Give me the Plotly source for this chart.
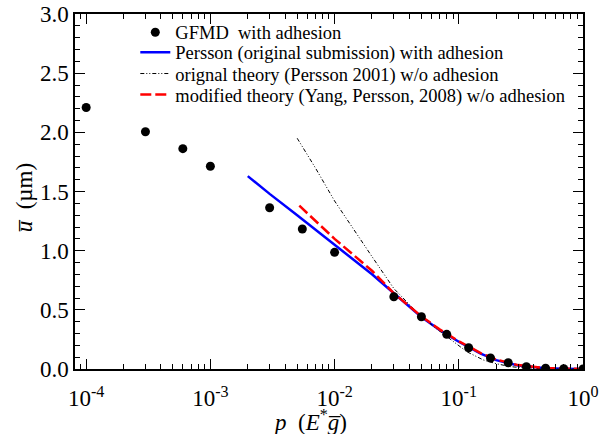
import plotly.graph_objects as go

# GFMD data (with adhesion)
gfmd_p = [1e-4, 3e-4, 6e-4, 1e-3, 3e-3, 5.5e-3, 1e-2, 3e-2, 5e-2, 8e-2, 0.12, 0.18, 0.25, 0.35, 0.5, 0.7, 1.0]
gfmd_u = [2.21, 2.005, 1.862, 1.713, 1.363, 1.183, 0.986, 0.611, 0.442, 0.293, 0.18, 0.093, 0.053, 0.02, 0.006, 0.003, 0.0]

# Persson (original submission) with adhesion
persson_p = [2e-3, 3e-3, 5e-3, 1e-2, 2e-2, 3e-2, 5e-2, 7e-2, 0.1, 0.15, 0.2, 0.3, 0.4, 0.5, 0.7, 1.0]
persson_u = [1.63, 1.48, 1.30, 1.05, 0.80, 0.64, 0.44, 0.33, 0.23, 0.13, 0.075, 0.03, 0.014, 0.007, 0.002, 0.0]

# original theory (Persson 2001) w/o adhesion
orig_p = [5e-3, 7e-3, 1e-2, 1.5e-2, 2e-2, 3e-2, 4.5e-2, 6.25e-2, 8e-2, 0.116, 0.158, 0.2, 0.26, 0.35, 0.5, 0.7, 1.0]
orig_u = [1.95, 1.70, 1.42, 1.14, 0.95, 0.68, 0.49, 0.36, 0.273, 0.146, 0.076, 0.045, 0.02, 0.007, 0.002, 0.0, 0.0]

# modified theory (Yang, Persson, 2008) w/o adhesion
mod_p = [5.2e-3, 7e-3, 1e-2, 1.42e-2, 2e-2, 3e-2, 5e-2, 7e-2, 0.1, 0.15, 0.2, 0.3, 0.4, 0.5, 0.7, 1.0]
mod_u = [1.38, 1.25, 1.10, 0.964, 0.83, 0.64, 0.445, 0.335, 0.235, 0.135, 0.08, 0.033, 0.016, 0.008, 0.003, 0.001]

x_tickvals = [1e-4, 1e-3, 1e-2, 1e-1, 1.0]
x_ticktext = ["10<sup>-4</sup>", "10<sup>-3</sup>", "10<sup>-2</sup>", "10<sup>-1</sup>", "10<sup>0</sup>"]
x_minor = [m * 10 ** e for e in (-5, -4, -3, -2, -1) for m in range(2, 10)]

FONT = "Liberation Serif"

fig = go.Figure()
fig.add_trace(go.Scatter(x=persson_p, y=persson_u, mode="lines",
                         line=dict(color="#0000ff", width=2.5),
                         name="Persson (original submission) with adhesion", legend="legend2"))
fig.add_trace(go.Scatter(x=orig_p, y=orig_u, mode="lines",
                         line=dict(color="black", width=1, dash="4px,2px,1px,2px,1px,2px"),
                         name="orignal theory (Persson 2001) w/o adhesion", legend="legend3"))
fig.add_trace(go.Scatter(x=mod_p, y=mod_u, mode="lines",
                         line=dict(color="#ff0000", width=2.5, dash="11px,4px"),
                         name="modified theory (Yang, Persson, 2008) w/o adhesion", legend="legend4"))
fig.add_trace(go.Scatter(x=gfmd_p, y=gfmd_u, mode="markers",
                         marker=dict(color="black", size=9),
                         name="GFMD\u00a0 with adhesion", legend="legend"))

L0 = 74.7
W = 508.0
H = 355.0
def lx(px):
    return (px - L0) / W
def ly(py):
    return (369 - py) / H

legend_common = dict(xanchor="left", yanchor="middle", bgcolor="rgba(0,0,0,0)",
                     font=dict(family=FONT, size=18.5, color="black"),
                     borderwidth=0, itemclick=False)
fig.update_layout(
    legend=dict(x=lx(135), y=ly(32.7), **legend_common),
    legend2=dict(x=lx(135), y=ly(52.7), **legend_common),
    legend3=dict(x=lx(135), y=ly(74), **legend_common),
    legend4=dict(x=lx(135), y=ly(95), **legend_common),
)

fig.update_xaxes(type="log", range=[-4.09, 0.0],
                 tickmode="array", tickvals=x_tickvals, ticktext=x_ticktext,
                 ticks="inside", ticklen=10, tickwidth=1.2, tickcolor="black",
                 ticklabelstandoff=8,
                 minor=dict(tickmode="array", tickvals=x_minor, ticks="inside",
                            ticklen=5, tickwidth=1.2, tickcolor="black", showgrid=False),
                 showline=True, linecolor="black", linewidth=1.5, mirror="allticks",
                 showgrid=False, zeroline=False, automargin=False,
                 tickfont=dict(family=FONT, size=23, color="black"))
fig.update_yaxes(range=[0, 3.0], dtick=0.5, tickformat=".1f",
                 ticks="inside", ticklen=10, tickwidth=1.2, tickcolor="black",
                 minor=dict(dtick=0.1, ticks="inside", ticklen=5, tickwidth=1.2,
                            tickcolor="black", showgrid=False),
                 showline=True, linecolor="black", linewidth=1.5, mirror="allticks",
                 showgrid=False, zeroline=False, automargin=False,
                 tickfont=dict(family=FONT, size=23, color="black"))

fig.add_annotation(xref="paper", yref="paper", x=lx(310), y=ly(420),
                   xanchor="center", yanchor="middle", showarrow=False,
                   text="<i>p</i>\u00a0 (<i>E</i><sup>*</sup><i>g\u0305</i>)",
                   font=dict(family=FONT, size=23, color="black"))
fig.add_annotation(xref="paper", yref="paper", x=lx(24), y=ly(198),
                   xanchor="center", yanchor="middle", showarrow=False, textangle=-90,
                   text="<i>u\u0305</i>\u00a0 (µm)",
                   font=dict(family=FONT, size=23, color="black"))

fig.update_layout(width=612, height=434,
                  margin=dict(l=75, r=29, t=14, b=65),
                  paper_bgcolor="white", plot_bgcolor="white",
                  showlegend=True)

fig.write_html("out.html", config={"displayModeBar": False},
               post_script="document.body.style.margin='0';document.body.style.overflow='hidden';")
